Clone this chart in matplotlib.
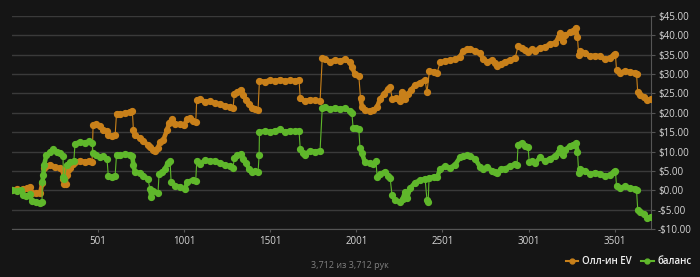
import numpy as np
import matplotlib
matplotlib.use("Agg")
import matplotlib.pyplot as plt
from matplotlib.lines import Line2D

# ---- data (hand number, value $) ----
ev_hands = [1, 30, 65, 90, 106, 117, 140, 165, 178, 186, 200, 222, 250, 280, 297,
            300, 305, 312, 318, 325, 338, 355, 367, 396, 425, 450, 466,
            472, 490, 512, 530, 553, 560, 580, 600,
            608, 630, 657, 686, 700,
            706, 715, 744, 762, 790, 803, 820, 832, 849, 861, 880, 901, 915, 930, 948, 977, 1000, 1020, 1035, 1050, 1068,
            1074, 1093, 1122, 1151, 1180, 1209, 1238, 1267, 1285,
            1292, 1310, 1330, 1345, 1360, 1380, 1395, 1412, 1430,
            1438, 1470, 1500, 1528, 1558, 1587, 1616, 1645, 1668,
            1675, 1700, 1732, 1761, 1790,
            1803, 1819, 1848, 1877, 1906, 1935, 1964, 1975, 1993, 2015,
            2025, 2034, 2051, 2080, 2100, 2121, 2138, 2160, 2185, 2197, 2210, 2230, 2254, 2266, 2283, 2300, 2320, 2342, 2371, 2400, 2411,
            2425, 2452, 2470, 2487, 2516, 2545, 2575, 2603, 2621, 2645, 2661, 2690, 2719, 2737, 2760, 2790, 2806, 2818, 2840, 2864, 2893, 2923,
            2940, 2960, 2981, 3000, 3020, 3039, 3068, 3097, 3126, 3155, 3175, 3184, 3201, 3215, 3242, 3260, 3275, 3285,
            3292, 3300, 3329, 3358, 3387, 3416, 3445, 3474, 3495, 3505,
            3512, 3532, 3561, 3590, 3619, 3628,
            3635, 3650, 3670, 3690, 3712]
ev_values = [0.0, 0.2, 0.3, 0.6, 0.9, -0.8, -0.7, -0.6, 2.0, 5.8, 6.3, 6.6, 6.0, 5.8, 5.2,
             3.0, 1.6, 1.6, 4.0, 5.2, 5.8, 6.8, 7.3, 7.6, 7.4, 7.6, 7.2,
             16.8, 17.0, 16.5, 15.6, 15.4, 14.2, 14.0, 14.3,
             19.8, 19.6, 19.9, 20.3, 20.5,
             15.6, 14.2, 13.5, 12.6, 11.8, 11.2, 10.5, 10.2, 11.0, 12.5, 13.0, 15.5, 17.5, 18.3, 17.2, 17.0, 16.8, 18.5, 18.7, 17.8, 17.6,
             23.4, 23.6, 22.8, 23.0, 22.5, 22.2, 21.8, 21.5, 21.2,
             24.8, 25.4, 26.0, 24.5, 23.4, 22.2, 21.3, 21.0, 20.8,
             28.3, 28.0, 28.5, 28.1, 28.6, 28.2, 28.4, 28.3, 28.5,
             23.8, 23.0, 23.4, 23.2, 23.0,
             34.2, 33.8, 33.2, 33.6, 33.4, 33.8, 33.0, 31.8, 30.0, 29.6,
             23.8, 21.5, 20.8, 20.4, 20.6, 21.5, 23.5, 24.8, 26.2, 26.6, 23.5, 23.8, 23.0, 25.5, 23.5, 24.8, 26.0, 27.2, 27.8, 28.5, 25.3,
             30.8, 30.6, 30.4, 33.0, 33.4, 33.6, 33.8, 34.5, 36.0, 36.4, 36.5, 36.0, 35.5, 33.8, 33.2, 33.6, 32.8, 32.2, 32.6, 33.2, 33.6, 34.2,
             37.2, 36.8, 36.2, 35.8, 36.5, 36.0, 36.8, 37.0, 37.8, 38.0, 39.5, 40.5, 38.5, 40.0, 40.8, 41.2, 42.0, 39.5,
             35.0, 36.0, 35.5, 34.6, 34.8, 34.6, 33.8, 34.2, 35.0, 35.2,
             31.0, 30.4, 30.8, 30.6, 30.3, 30.0,
             25.3, 24.6, 24.0, 23.2, 23.5]

bal_hands = [1, 30, 55, 65, 85, 106, 117, 140, 165, 175, 178, 183, 188, 200, 222, 240, 260, 280, 297,
             300, 305, 318, 338, 360, 367, 396, 425, 450, 466, 472, 490, 512, 530, 553, 560, 580, 600,
             608, 630, 657, 686, 700, 706, 715, 744, 762, 790, 803, 810, 820, 849, 855, 870, 890, 905, 919,
             925, 948, 977, 1006, 1020, 1050, 1068, 1074, 1093, 1122, 1151, 1180, 1209, 1238, 1267, 1285,
             1292, 1310, 1330, 1345, 1360, 1380, 1395, 1412, 1430, 1436, 1438, 1470, 1500, 1528, 1558, 1587, 1616, 1645, 1668,
             1675, 1690, 1700, 1732, 1761, 1790, 1803, 1819, 1848, 1877, 1906, 1935, 1964, 1975, 1982, 2000, 2015,
             2022, 2034, 2051, 2080, 2100, 2115, 2121, 2138, 2167, 2185, 2197, 2208, 2225, 2254, 2270, 2283, 2295, 2313,
             2342, 2371, 2400, 2411, 2418, 2423, 2452, 2470, 2487, 2516, 2545, 2574, 2603, 2621, 2645, 2661, 2690, 2719,
             2737, 2760, 2790, 2806, 2818, 2840, 2864, 2893, 2923, 2934, 2940, 2960, 2981, 2998, 3005, 3020, 3039, 3068,
             3097, 3126, 3155, 3175, 3184, 3201, 3215, 3242, 3260, 3275, 3285, 3292, 3300, 3329, 3358, 3387, 3416, 3445,
             3474, 3495, 3505, 3512, 3532, 3561, 3590, 3619, 3628, 3635, 3650, 3670, 3690, 3712]
bal_values = [0.0, -0.2, 0.1, -1.2, -1.6, -1.0, -2.8, -3.0, -3.2, -2.9, 2.2, 4.0, 6.5, 9.0, 9.8, 10.6, 9.8, 9.5, 8.8,
              3.5, 3.0, 6.5, 7.2, 7.5, 12.0, 12.5, 12.2, 12.6, 12.3, 9.6, 9.0, 8.6, 8.8, 8.0, 3.8, 3.4, 3.8,
              9.2, 9.0, 9.3, 9.2, 8.8, 6.5, 4.8, 4.4, 3.8, 3.0, 0.2, -1.8, -0.2, -0.6, 4.2, 4.6, 5.5, 7.0, 7.6,
              2.2, 1.2, 0.8, 0.4, 2.2, 2.6, 2.4, 7.6, 6.8, 7.8, 7.5, 7.6, 7.0, 6.6, 6.2, 5.8,
              8.4, 9.0, 9.4, 8.0, 7.0, 5.4, 4.8, 5.0, 4.6, 9.0, 15.0, 15.3, 15.0, 15.4, 15.7, 15.0, 15.4, 15.2, 15.3,
              10.6, 9.5, 9.2, 10.2, 10.0, 10.2, 21.3, 21.6, 20.9, 21.3, 21.0, 21.2, 20.5, 20.0, 16.0, 16.2, 15.8,
              11.0, 9.5, 7.2, 7.0, 6.8, 7.5, 3.5, 4.2, 4.8, 3.8, 3.2, -1.3, -2.5, -3.0, -2.2, -0.5, -2.0, 0.5,
              2.0, 2.6, 3.0, -2.5, -3.0, 3.2, 3.5, 3.3, 5.5, 6.2, 5.8, 6.6, 8.5, 8.8, 9.0, 8.8, 8.2, 6.0,
              5.5, 6.0, 5.0, 4.8, 4.5, 5.4, 5.6, 6.2, 6.8, 6.4, 11.8, 12.2, 11.5, 11.2, 7.2, 7.5, 7.0, 8.5,
              7.5, 8.2, 8.8, 10.0, 10.8, 9.0, 10.5, 11.5, 11.8, 12.2, 10.0, 4.5, 5.5, 5.0, 4.2, 4.5, 4.3, 3.6,
              4.0, 4.8, 5.0, 1.2, 0.6, 1.0, 0.6, 0.4, 0.0, -5.0, -5.6, -6.0, -7.2, -6.8]

x_ticks = [501, 1001, 1501, 2001, 2501, 3001, 3501]
y_ticks = [-10, -5, 0, 5, 10, 15, 20, 25, 30, 35, 40, 45]
series_names = ["Олл-ин EV", "баланс"]
footer = "3,712 из 3,712 рук"

ORANGE = "#c8801a"
GREEN = "#5fb72b"
BG = "#151515"

plt.rcParams['font.family'] = ['Open Sans', 'DejaVu Sans']

fig = plt.figure(figsize=(7.0, 2.77), dpi=100, facecolor=BG)
ax = fig.add_axes([12/700, 48/277, 639/700, 213/277])
ax.set_facecolor(BG)


def broken(xs, ys, thr=2.6):
    xs = np.asarray(xs, float); ys = np.asarray(ys, float)
    ox, oy = [xs[0]], [ys[0]]
    for i in range(1, len(xs)):
        if abs(ys[i] - ys[i-1]) > thr:
            ox.append(np.nan); oy.append(np.nan)
        ox.append(xs[i]); oy.append(ys[i])
    return np.array(ox), np.array(oy)


for hx, hv, col, z in [(ev_hands, ev_values, ORANGE, 3), (bal_hands, bal_values, GREEN, 4)]:
    ax.plot(hx, hv, color=col, lw=0.8, zorder=z)
    bx, by = broken(hx, hv)
    ax.plot(bx, by, color=col, lw=3.3, solid_capstyle='round', solid_joinstyle='round', zorder=z)
    ax.plot(hx, hv, ls='none', marker='o', ms=4.2, color=col, mec=col, zorder=z)

ax.set_xlim(1, 3712)
ax.set_ylim(-10, 45)
ax.set_yticks(y_ticks)
ax.set_xticks(x_ticks)
ax.set_xticklabels([str(t) for t in x_ticks])
ax.set_yticklabels([("-$%.2f" % abs(v)) if v < 0 else ("$%.2f" % v) for v in y_ticks])
ax.yaxis.tick_right()
ax.grid(axis='y', color='#3a3a3a', lw=1.0, zorder=0)
ax.set_axisbelow(True)
for s in ['top', 'left']:
    ax.spines[s].set_visible(False)
ax.spines['bottom'].set_color('#555555')
ax.spines['right'].set_color('#555555')
ax.tick_params(axis='y', colors='#555555', labelcolor='#d6d6d6', labelsize=7, length=3, pad=2)
ax.tick_params(axis='x', colors='#555555', labelcolor='#d6d6d6', labelsize=7, length=2, pad=3)

handles = [Line2D([0], [0], color=ORANGE, lw=1.5, marker='o', ms=3.5),
           Line2D([0], [0], color=GREEN, lw=1.5, marker='o', ms=3.5)]
leg = fig.legend(handles, series_names, loc='center right', bbox_to_anchor=(0.995, 1 - 262/277),
                 ncol=2, frameon=False, fontsize=7, handlelength=1.3, handletextpad=0.4,
                 columnspacing=0.9, borderpad=0)
for t in leg.get_texts():
    t.set_color('#f0f0f0')
    t.set_fontweight('semibold')

fig.text(0.5, 1 - 266/277, footer, ha='center', va='center', color='#808080', fontsize=6.5)

fig.savefig("out.png", dpi=100, facecolor=BG)
